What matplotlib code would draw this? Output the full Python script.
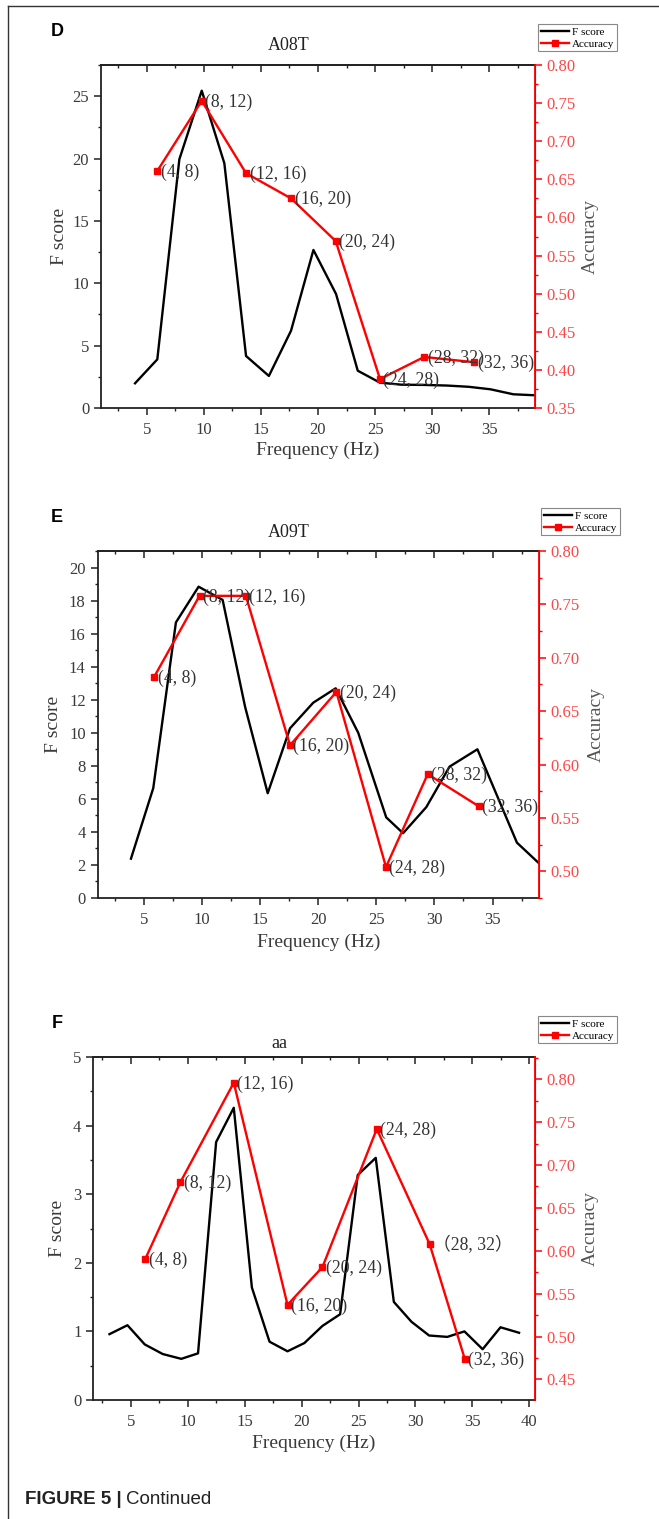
import matplotlib
matplotlib.use('Agg')
import matplotlib.pyplot as plt
from matplotlib.ticker import MultipleLocator, FormatStrFormatter
from matplotlib.lines import Line2D

W, H = 659, 1519

SERIF = ['Liberation Serif', 'Noto Sans CJK SC', 'DejaVu Serif']
SANS = ['Liberation Sans', 'DejaVu Sans']

# 频段标签
band_labels = ['(4, 8)', '(8, 12)', '(12, 16)', '(16, 20)',
               '(20, 24)', '(24, 28)', '(28, 32)', '(32, 36)']
band_labels_f = ['(4, 8)', '(8, 12)', '(12, 16)', '(16, 20)',
                 '(20, 24)', '(24, 28)', '（28, 32）', '(32, 36)']

# D: A08T
d_freq = [3.98, 5.93, 7.86, 9.82, 11.8, 13.7, 15.7, 17.64, 19.6, 21.58,
          23.48, 25.43, 27.3, 29.3, 31.3, 33.2, 35.1, 37.1, 39.0]
d_fscore = [1.98, 3.9, 19.94, 25.44, 19.62, 4.17, 2.57, 6.2, 12.67, 9.14,
            2.99, 2.03, 1.87, 1.85, 1.8, 1.7, 1.5, 1.1, 1.02]
d_acc_x = [5.93, 9.82, 13.7, 17.64, 21.55, 25.43, 29.3, 33.7]
d_acc = [0.661, 0.753, 0.658, 0.625, 0.569, 0.388, 0.417, 0.410]

# E: A09T
e_freq = [3.88, 5.8, 7.75, 9.7, 11.77, 13.7, 15.65, 17.57, 19.57, 21.5,
          23.44, 25.85, 27.3, 29.3, 31.3, 33.7, 37.1, 39.0]
e_fscore = [2.38, 6.65, 16.68, 18.84, 18.04, 11.58, 6.34, 10.27, 11.82, 12.69,
            10.0, 4.88, 3.92, 5.5, 7.95, 9.0, 3.35, 2.1]
e_acc_x = [5.87, 9.78, 13.77, 17.57, 21.56, 25.83, 29.42, 33.8]
e_acc = [0.682, 0.758, 0.758, 0.618, 0.668, 0.504, 0.591, 0.561]

# F: aa
f_freq = [3.12, 4.7, 6.22, 7.8, 9.43, 10.9, 12.49, 14.04, 15.63, 17.18,
          18.76, 20.24, 21.83, 23.38, 24.93, 26.51, 28.1, 29.65, 31.2, 32.8,
          34.3, 35.9, 37.47, 39.1]
f_fscore = [0.96, 1.09, 0.81, 0.67, 0.60, 0.68, 3.76, 4.26, 1.64, 0.85,
            0.71, 0.83, 1.08, 1.25, 3.28, 3.53, 1.43, 1.14, 0.94, 0.92,
            1.0, 0.74, 1.06, 0.98]
f_acc_x = [6.25, 9.35, 14.04, 18.76, 21.83, 26.6, 31.24, 34.33]
f_acc = [0.590, 0.680, 0.796, 0.537, 0.581, 0.742, 0.608, 0.474]

panels = [
    dict(letter='D', title='A08T', freq=d_freq, fs=d_fscore, ax_=d_acc_x, acc=d_acc,
         labels=band_labels, box=(101, 65, 535, 408), xlim=(1, 39),
         ylim=(0, 27.5), ymaj=5, ymin=2.5, rlim=(0.35, 0.80),
         letter_xy=(57, 32), title_xy=(289, 46), leg_xy=(538, 24),
         lab=(59, 590, 450)),
    dict(letter='E', title='A09T', freq=e_freq, fs=e_fscore, ax_=e_acc_x, acc=e_acc,
         labels=band_labels, box=(97.5, 551, 539, 898), xlim=(1, 39),
         ylim=(0, 21), ymaj=2, ymin=1, rlim=(0.475, 0.80),
         letter_xy=(57, 517), title_xy=(289, 532), leg_xy=(541, 508),
         lab=(54, 596, 942)),
    dict(letter='F', title='aa', freq=f_freq, fs=f_fscore, ax_=f_acc_x, acc=f_acc,
         labels=band_labels_f, box=(93.3, 1057, 535, 1400), xlim=(1.7, 40.5),
         ylim=(0, 5), ymaj=1, ymin=0.5, rlim=(0.426, 0.826),
         letter_xy=(57, 1023), title_xy=(279, 1044), leg_xy=(538, 1016),
         lab=(58, 590, 1443)),
]

fig = plt.figure(figsize=(W / 100, H / 100), dpi=100)

# 外框线
fig.add_artist(Line2D([8 / W, 8 / W], [0, 1 - 6 / H], color='#333333', lw=1.0))
fig.add_artist(Line2D([8 / W, 1], [1 - 6 / H, 1 - 6 / H], color='#333333', lw=1.0))

GRAY = '#3a3a3a'
RED = '#ff0000'
RED_TXT = '#ff4545'

for p in panels:
    l, t, r, b = p['box']
    ax = fig.add_axes([l / W, 1 - b / H, (r - l) / W, (b - t) / H])
    ax2 = ax.twinx()

    ax.plot(p['freq'], p['fs'], color='black', lw=1.7, label='F score')
    ax2.plot(p['ax_'], p['acc'], color=RED, lw=1.7, marker='s', ms=5,
             label='Accuracy')
    for xx, yy, s in zip(p['ax_'], p['acc'], p['labels']):
        ax2.annotate(s, (xx, yy), xytext=(2.5, -1), textcoords='offset points',
                     ha='left', va='center', fontsize=12.8, color='#333333',
                     family=SERIF)

    ax.set_xlim(*p['xlim'])
    ax.set_ylim(*p['ylim'])
    ax2.set_ylim(*p['rlim'])

    ax.xaxis.set_major_locator(MultipleLocator(5))
    ax.xaxis.set_minor_locator(MultipleLocator(2.5))
    ax.yaxis.set_major_locator(MultipleLocator(p['ymaj']))
    ax.yaxis.set_minor_locator(MultipleLocator(p['ymin']))
    ax.yaxis.set_major_formatter(FormatStrFormatter('%d'))
    ax2.yaxis.set_major_locator(MultipleLocator(0.05))
    ax2.yaxis.set_minor_locator(MultipleLocator(0.025))
    ax2.yaxis.set_major_formatter(FormatStrFormatter('%.2f'))

    for sp in ['left', 'bottom', 'top']:
        ax.spines[sp].set_color('#222222')
        ax.spines[sp].set_linewidth(1.3)
    ax2.spines['right'].set_color(RED)
    ax2.spines['right'].set_linewidth(1.3)
    for sp in ['left', 'bottom', 'top']:
        ax2.spines[sp].set_visible(False)

    ax.tick_params(axis='both', which='major', direction='out', length=5,
                   width=1.1, color='#222222', labelsize=12, labelcolor=GRAY)
    ax.tick_params(axis='both', which='minor', direction='out', length=2.5,
                   width=1.0, color='#222222')
    ax.tick_params(axis='x', which='major', pad=5)
    ax2.tick_params(axis='y', which='major', direction='out', length=5,
                    width=1.1, color=RED, labelsize=12, labelcolor=RED_TXT)
    ax2.tick_params(axis='y', which='minor', direction='out', length=2.5,
                    width=1.0, color=RED)
    for lab in ax.get_xticklabels() + ax.get_yticklabels() + ax2.get_yticklabels():
        lab.set_family(SERIF)

    # 上边框刻度朝内
    top = ax.secondary_xaxis('top')
    top.xaxis.set_major_locator(MultipleLocator(5))
    top.xaxis.set_minor_locator(MultipleLocator(2.5))
    top.tick_params(which='major', direction='in', length=5, width=1.1,
                    color='#222222', labeltop=False)
    top.tick_params(which='minor', direction='in', length=2.5, width=1.0,
                    color='#222222')
    top.spines['top'].set_color('#222222')
    top.spines['top'].set_linewidth(1.3)

    ax.set_ylabel('F score', fontsize=14, color=GRAY, family=SERIF, va='center')
    ax2.set_ylabel('Accuracy', fontsize=14, color='#555555', family=SERIF,
                   va='center')
    ax.set_xlabel('Frequency (Hz)', fontsize=14, color=GRAY, family=SERIF,
                  va='center')
    lx, rx, by = p['lab']
    ax.yaxis.set_label_coords((lx - l) / (r - l), 0.5)
    ax2.yaxis.set_label_coords((rx - l) / (r - l), 0.5)
    ax.xaxis.set_label_coords(0.5, (b - by) / (b - t))

    h1, l1 = ax.get_legend_handles_labels()
    h2, l2 = ax2.get_legend_handles_labels()
    lx0, ly0 = p['leg_xy']
    leg = ax2.legend(h1 + h2, l1 + l2, loc='upper left',
                     bbox_to_anchor=(lx0 / W, 1 - ly0 / H),
                     bbox_transform=fig.transFigure,
                     prop={'family': SERIF, 'size': 8},
                     fancybox=False, edgecolor='#888888', framealpha=1,
                     borderpad=0.25, labelspacing=0.2, handlelength=2.5,
                     handletextpad=0.3, borderaxespad=0)
    leg.get_frame().set_linewidth(0.8)

    fig.text(p['title_xy'][0] / W, 1 - p['title_xy'][1] / H, p['title'],
             ha='center', va='center', fontsize=13, color='#222222', family=SERIF)
    fig.text(p['letter_xy'][0] / W, 1 - p['letter_xy'][1] / H, p['letter'],
             ha='center', va='center', fontsize=13, fontweight='bold',
             color='black', family=SANS)

# 图注
t1 = fig.text(25 / W, 1 - 1500 / H, 'FIGURE 5 |', ha='left', va='center',
              fontsize=13.5, fontweight='bold', color='#222222', family=SANS)
fig.canvas.draw()
bb = t1.get_window_extent(renderer=fig.canvas.get_renderer())
fig.text(bb.x1 / W + 4 / W, 1 - 1500 / H, 'Continued', ha='left', va='center',
         fontsize=13.5, color='#222222', family=SANS)

fig.savefig('out.png', dpi=100)
